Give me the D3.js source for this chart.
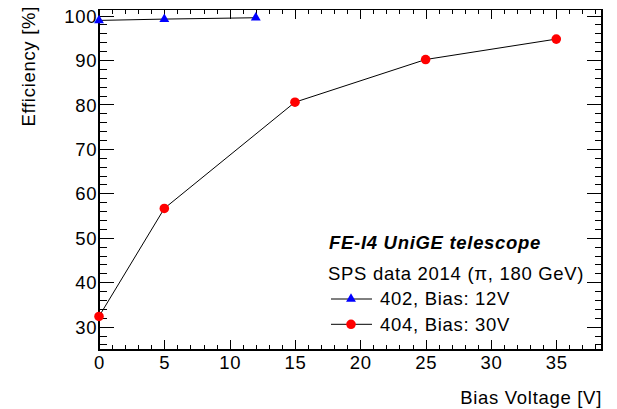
<!DOCTYPE html>
<html>
<head>
<meta charset="utf-8">
<script src="https://cdn.jsdelivr.net/npm/d3@7"></script>
<style>
  html, body { margin: 0; padding: 0; background: #fff; }
  svg { display: block; }
  text { font-family: "Liberation Sans", Arial, Helvetica, sans-serif; fill: #000; }
</style>
</head>
<body>
<svg id="chart" width="617" height="409"></svg>
<script>
// Bias voltage scan: efficiency per sensor
const series402Bias = [0, 5, 12];
const series402Eff = [98.9, 99.2, 99.5];
const series404Bias = [0, 5, 15, 25, 35];
const series404Eff = [32.3, 56.6, 80.5, 90.1, 94.7];

const xMajorTicks = [0, 5, 10, 15, 20, 25, 30, 35];
const yMajorTicks = [30, 40, 50, 60, 70, 80, 90, 100];

const xAxisTitle = "Bias Voltage [V]";
const yAxisTitle = "Efficiency [%]";
const legendHeader = "FE-I4 UniGE telescope";
const legendSubheader = "SPS data 2014 (\u03c0, 180 GeV)";
const legendLabels = ["402, Bias: 12V", "404, Bias: 30V"];

const W = 617, H = 409;
const frame = { left: 99, right: 602, top: 9.3, bottom: 350 };
const FS = 18.5, LS = 0.7;

const svg = d3.select("#chart");

const x = d3.scaleLinear().domain([0, 38.5]).range([frame.left, frame.right]);
const y = d3.scaleLinear().domain([24.75, 101.4]).range([frame.bottom, frame.top]);

const xMinor = d3.range(0, 38.5, 1).filter(v => v % 5 !== 0);
const yMinor = d3.range(26, 101.4, 2).filter(v => v % 10 !== 0);

function styleAxis(g) {
  g.select(".domain").remove();
  g.selectAll(".tick line").attr("stroke", "#000").attr("stroke-width", 1)
    .attr("shape-rendering", "crispEdges");
  g.selectAll("text")
    .attr("font-size", FS)
    .attr("letter-spacing", LS)
    .attr("font-family", "Liberation Sans, Arial, sans-serif")
    .attr("fill", "#000");
}

const xTickMajor = 10, xTickMinor = 5;
const yTickMajor = 15, yTickMinor = 7.5;

// bottom axis with labels
svg.append("g").attr("transform", `translate(0,${frame.bottom})`)
  .call(d3.axisBottom(x).tickValues(xMajorTicks).tickSize(-xTickMajor).tickPadding(6.3)
    .tickFormat(d3.format("d")))
  .call(styleAxis);
svg.append("g").attr("transform", `translate(0,${frame.bottom})`)
  .call(d3.axisBottom(x).tickValues(xMinor).tickSize(-xTickMinor).tickFormat(""))
  .call(styleAxis);
// top mirror ticks
svg.append("g").attr("transform", `translate(0,${frame.top})`)
  .call(d3.axisTop(x).tickValues(xMajorTicks).tickSize(-xTickMajor).tickFormat(""))
  .call(styleAxis);
svg.append("g").attr("transform", `translate(0,${frame.top})`)
  .call(d3.axisTop(x).tickValues(xMinor).tickSize(-xTickMinor).tickFormat(""))
  .call(styleAxis);

// left axis with labels
svg.append("g").attr("transform", `translate(${frame.left},0)`)
  .call(d3.axisLeft(y).tickValues(yMajorTicks).tickSize(-yTickMajor).tickPadding(1.8)
    .tickFormat(d3.format("d")))
  .call(styleAxis)
  .call(g => g.selectAll("text").attr("dy", "0.36em"));
svg.append("g").attr("transform", `translate(${frame.left},0)`)
  .call(d3.axisLeft(y).tickValues(yMinor).tickSize(-yTickMinor).tickFormat(""))
  .call(styleAxis);
// right mirror ticks
svg.append("g").attr("transform", `translate(${frame.right},0)`)
  .call(d3.axisRight(y).tickValues(yMajorTicks).tickSize(-yTickMajor).tickFormat(""))
  .call(styleAxis);
svg.append("g").attr("transform", `translate(${frame.right},0)`)
  .call(d3.axisRight(y).tickValues(yMinor).tickSize(-yTickMinor).tickFormat(""))
  .call(styleAxis);

// frame
svg.append("rect")
  .attr("x", frame.left).attr("y", frame.top)
  .attr("width", frame.right - frame.left).attr("height", frame.bottom - frame.top)
  .attr("fill", "none").attr("stroke", "#000").attr("stroke-width", 1.2)
  .attr("shape-rendering", "crispEdges");

// axis titles
svg.append("text")
  .attr("x", frame.right).attr("y", 404)
  .attr("text-anchor", "end")
  .attr("font-size", FS).attr("letter-spacing", LS)
  .text(xAxisTitle);
svg.append("text")
  .attr("transform", `translate(34.5,${6}) rotate(-90)`)
  .attr("text-anchor", "end")
  .attr("font-size", FS).attr("letter-spacing", LS)
  .text(yAxisTitle);

// series
const line = d3.line().x(d => x(d[0])).y(d => y(d[1]));
const pts402 = series402Bias.map((b, i) => [b, series402Eff[i]]);
const pts404 = series404Bias.map((b, i) => [b, series404Eff[i]]);

const triangle = d3.symbol().type(d3.symbolTriangle).size(42);

svg.append("path").attr("d", line(pts402)).attr("fill", "none")
  .attr("stroke", "#000").attr("stroke-width", 1);
svg.append("path").attr("d", line(pts404)).attr("fill", "none")
  .attr("stroke", "#000").attr("stroke-width", 1);

svg.append("g").selectAll("path").data(pts402).join("path")
  .attr("d", triangle)
  .attr("transform", d => `translate(${x(d[0])},${y(d[1])})`)
  .attr("fill", "#0000ff");
svg.append("g").selectAll("circle").data(pts404).join("circle")
  .attr("cx", d => x(d[0])).attr("cy", d => y(d[1]))
  .attr("r", 4.8).attr("fill", "#ff0000");

// legend
const lg = svg.append("g");
lg.append("text").attr("x", 329).attr("y", 249)
  .attr("font-size", FS).attr("letter-spacing", LS)
  .attr("font-weight", "bold").attr("font-style", "italic")
  .text(legendHeader);
lg.append("text").attr("x", 328).attr("y", 280)
  .attr("font-size", FS).attr("letter-spacing", LS)
  .text(legendSubheader);

const entryY = [299, 324.3];
legendLabels.forEach((lab, i) => {
  const yy = entryY[i];
  lg.append("line").attr("x1", 331).attr("x2", 372).attr("y1", yy).attr("y2", yy)
    .attr("stroke", "#000").attr("stroke-width", 1);
  if (i === 0) {
    lg.append("path").attr("d", triangle).attr("transform", `translate(351,${yy})`)
      .attr("fill", "#0000ff");
  } else {
    lg.append("circle").attr("cx", 351).attr("cy", yy).attr("r", 4.8).attr("fill", "#ff0000");
  }
  lg.append("text").attr("x", 380).attr("y", yy + 6.3)
    .attr("font-size", FS).attr("letter-spacing", LS)
    .text(lab);
});
</script>
</body>
</html>
